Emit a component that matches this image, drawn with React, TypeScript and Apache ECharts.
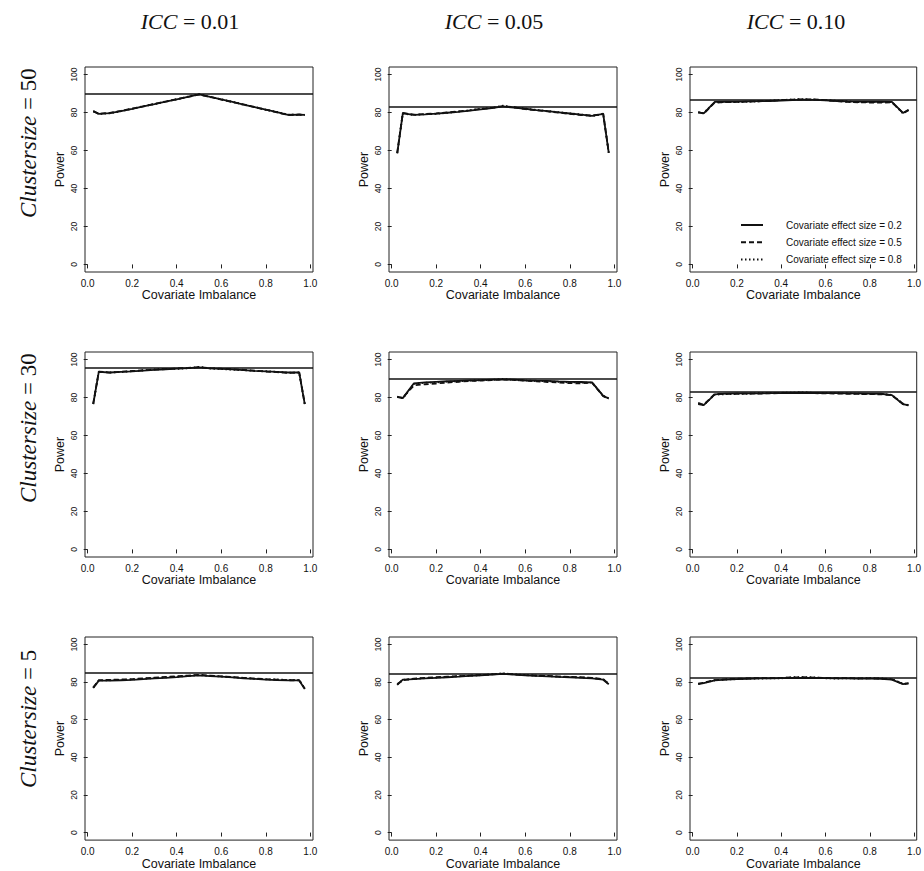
import React, { useEffect, useRef } from "react";
import * as echarts from "echarts";

// ---- data ----
const X = [0.025, 0.05, 0.1, 0.15, 0.2, 0.25, 0.3, 0.35, 0.4, 0.45, 0.5, 0.55, 0.6, 0.65, 0.7, 0.75, 0.8, 0.85, 0.9, 0.95, 0.975];
const X_TICKS = [0, 0.2, 0.4, 0.6, 0.8, 1.0];
const Y_TICKS = [0, 20, 40, 60, 80, 100];
const ICC_LABELS = ["0.01", "0.05", "0.10"];
const CLUSTER_SIZES = ["50", "30", "5"];
const EFFECT_NAMES = ["Covariate effect size = 0.2", "Covariate effect size = 0.5", "Covariate effect size = 0.8"];
// reference (horizontal) power lines, rows = cluster size, cols = ICC
const REF_ROW_50 = [89.8, 83.1, 86.6];
const REF_ROW_30 = [95.7, 89.7, 82.9];
const REF_ROW_5 = [85.1, 84.3, 82.5];

// Cluster size 50
const cs50_icc01_e02 = [80.8, 79.3, 79.7, 80.8, 82.0, 83.3, 84.5, 85.8, 87.0, 88.3, 89.6, 88.2, 86.9, 85.6, 84.2, 82.9, 81.5, 80.2, 78.8, 78.9, 78.8];
const cs50_icc01_e05 = [80.6, 79.4, 79.8, 80.9, 82.1, 83.2, 84.6, 85.7, 87.1, 88.2, 89.5, 88.3, 86.8, 85.5, 84.3, 82.8, 81.6, 80.1, 78.7, 79.0, 78.9];
const cs50_icc01_e08 = [80.7, 79.2, 79.6, 80.7, 82.0, 83.4, 84.4, 85.9, 86.9, 88.4, 89.7, 88.1, 87.0, 85.7, 84.1, 83.0, 81.4, 80.3, 78.9, 78.8, 78.7];
const cs50_icc05_e02 = [58.5, 79.6, 78.8, 79.0, 79.4, 79.9, 80.4, 81.0, 81.7, 82.3, 83.2, 82.6, 82.0, 81.3, 80.7, 80.1, 79.5, 78.9, 78.3, 79.3, 58.8];
const cs50_icc05_e05 = [58.8, 79.8, 78.9, 79.2, 79.5, 80.1, 80.6, 81.2, 81.9, 82.5, 83.4, 82.8, 81.8, 81.2, 80.6, 80.0, 79.3, 78.7, 78.4, 79.4, 59.0];
const cs50_icc05_e08 = [58.6, 79.5, 78.7, 79.1, 79.3, 79.8, 80.5, 81.1, 82.0, 82.4, 83.6, 82.7, 82.1, 81.4, 80.8, 80.2, 79.6, 79.0, 78.2, 79.2, 58.7];
const cs50_icc10_e02 = [80.1, 79.6, 85.6, 85.7, 85.8, 85.9, 86.0, 86.1, 86.3, 86.6, 86.8, 86.7, 86.4, 86.1, 85.9, 85.8, 85.7, 85.7, 85.6, 79.8, 81.4];
const cs50_icc10_e05 = [80.3, 79.4, 85.3, 85.5, 85.6, 85.8, 85.9, 86.2, 86.5, 86.8, 87.0, 86.9, 86.5, 86.0, 85.6, 85.4, 85.3, 85.2, 85.4, 79.7, 81.2];
const cs50_icc10_e08 = [80.0, 79.8, 85.4, 85.5, 85.5, 85.7, 85.9, 86.3, 86.6, 86.9, 87.1, 86.8, 86.6, 86.2, 85.8, 85.5, 85.6, 85.6, 85.5, 79.5, 81.3];

// Cluster size 30
const cs30_icc01_e02 = [76.6, 93.5, 93.2, 93.5, 93.8, 94.2, 94.6, 94.9, 95.2, 95.5, 95.9, 95.4, 95.1, 94.8, 94.5, 94.1, 93.8, 93.5, 93.2, 93.2, 76.5];
const cs30_icc01_e05 = [76.8, 93.7, 93.1, 93.6, 94.0, 94.4, 94.7, 95.0, 95.3, 95.6, 96.0, 95.5, 95.2, 94.9, 94.6, 94.2, 93.7, 93.4, 93.0, 93.3, 76.7];
const cs30_icc01_e08 = [76.5, 93.6, 93.3, 93.4, 93.9, 94.3, 94.8, 95.1, 95.1, 95.4, 96.2, 95.3, 95.0, 94.7, 94.4, 94.0, 93.9, 93.6, 93.1, 93.1, 76.4];
const cs30_icc05_e02 = [80.4, 79.7, 87.5, 88.0, 88.3, 88.6, 88.8, 89.0, 89.2, 89.4, 89.6, 89.4, 89.1, 88.9, 88.8, 88.5, 88.3, 88.2, 88.0, 80.9, 79.5];
const cs30_icc05_e05 = [80.2, 79.9, 86.4, 87.0, 87.4, 87.9, 88.3, 88.7, 88.9, 89.2, 89.5, 89.3, 88.9, 88.6, 88.2, 87.9, 87.6, 87.5, 87.8, 80.7, 79.4];
const cs30_icc05_e08 = [80.5, 79.6, 87.2, 87.8, 88.0, 88.4, 88.6, 88.9, 89.1, 89.3, 89.8, 89.2, 89.0, 88.7, 88.6, 88.3, 88.0, 87.9, 87.9, 81.0, 79.6];
const cs30_icc10_e02 = [76.6, 76.0, 81.7, 82.1, 82.2, 82.2, 82.2, 82.3, 82.3, 82.4, 82.5, 82.4, 82.3, 82.3, 82.2, 82.2, 82.1, 82.0, 81.3, 76.5, 75.9];
const cs30_icc10_e05 = [77.2, 76.2, 81.9, 81.9, 82.0, 82.1, 82.1, 82.2, 82.4, 82.5, 82.6, 82.3, 82.2, 82.1, 82.0, 81.9, 81.8, 81.7, 81.2, 76.8, 76.0];
const cs30_icc10_e08 = [76.8, 76.1, 81.5, 81.8, 81.9, 82.0, 82.3, 82.4, 82.5, 82.6, 82.7, 82.5, 82.4, 82.3, 82.2, 82.0, 81.9, 81.9, 81.4, 76.6, 75.8];

// Cluster size 5
const cs5_icc01_e02 = [76.9, 80.8, 80.8, 81.0, 81.2, 81.6, 82.0, 82.3, 82.7, 83.2, 83.6, 83.2, 82.9, 82.5, 82.0, 81.7, 81.3, 81.1, 80.9, 80.9, 76.4];
const cs5_icc01_e05 = [77.2, 81.0, 81.2, 81.4, 81.6, 82.0, 82.4, 82.8, 83.1, 83.5, 83.9, 83.5, 83.1, 82.7, 82.3, 81.9, 81.6, 81.3, 81.0, 81.0, 76.6];
const cs5_icc01_e08 = [77.0, 80.9, 81.0, 81.2, 81.4, 81.8, 82.2, 82.5, 82.9, 83.3, 83.7, 83.3, 83.0, 82.6, 82.2, 81.8, 81.5, 81.4, 81.2, 81.1, 76.5];
const cs5_icc05_e02 = [78.5, 81.3, 81.6, 82.0, 82.3, 82.6, 82.9, 83.3, 83.6, 84.0, 84.4, 84.0, 83.6, 83.3, 83.1, 82.8, 82.6, 82.3, 82.0, 81.3, 78.9];
const cs5_icc05_e05 = [79.0, 81.0, 81.9, 82.3, 82.6, 82.9, 83.2, 83.5, 83.8, 84.1, 84.5, 84.1, 83.7, 83.5, 83.3, 83.0, 82.8, 82.6, 82.3, 81.6, 79.1];
const cs5_icc05_e08 = [78.7, 81.2, 81.7, 82.1, 82.4, 82.7, 83.1, 83.4, 83.7, 84.2, 84.7, 84.2, 83.8, 83.4, 83.2, 82.9, 82.7, 82.5, 82.2, 81.5, 79.0];
const cs5_icc10_e02 = [79.0, 79.5, 80.9, 81.3, 81.6, 81.8, 82.0, 82.0, 82.1, 82.2, 82.3, 82.2, 82.1, 82.0, 82.0, 81.9, 81.9, 81.8, 81.3, 78.9, 79.3];
const cs5_icc10_e05 = [79.2, 79.7, 81.1, 81.5, 81.8, 82.0, 82.1, 82.1, 82.2, 82.5, 82.6, 82.4, 82.2, 82.1, 82.1, 82.0, 82.0, 81.9, 81.5, 79.0, 79.4];
const cs5_icc10_e08 = [79.1, 79.6, 81.0, 81.4, 81.6, 81.9, 81.9, 82.0, 82.0, 82.6, 82.7, 82.5, 82.0, 81.9, 82.0, 81.9, 82.1, 82.0, 81.6, 79.1, 79.2];

// ---- layout (not data) ----
const COL_LEFT = [85, 389, 690];
const ROW_TOP = [67, 352, 637];
const PANEL_W = 228;
const PANEL_H = 205;
const HEADER_X = [190, 494, 796];
const ROWLABEL_BOTTOM = [218, 503, 788];
const SANS = "Liberation Sans, Arial, sans-serif";
const SERIF = "Liberation Serif, Times New Roman, serif";
const INK = "#111";

function buildOption() {
  const panels = [
    [[cs50_icc01_e02, cs50_icc01_e05, cs50_icc01_e08], [cs50_icc05_e02, cs50_icc05_e05, cs50_icc05_e08], [cs50_icc10_e02, cs50_icc10_e05, cs50_icc10_e08]],
    [[cs30_icc01_e02, cs30_icc01_e05, cs30_icc01_e08], [cs30_icc05_e02, cs30_icc05_e05, cs30_icc05_e08], [cs30_icc10_e02, cs30_icc10_e05, cs30_icc10_e08]],
    [[cs5_icc01_e02, cs5_icc01_e05, cs5_icc01_e08], [cs5_icc05_e02, cs5_icc05_e05, cs5_icc05_e08], [cs5_icc10_e02, cs5_icc10_e05, cs5_icc10_e08]],
  ];
  const refs = [REF_ROW_50, REF_ROW_30, REF_ROW_5];
  const lineTypes: any[] = ["solid", [5, 3], [1.5, 2.5]];

  const grid: any[] = [];
  const xAxis: any[] = [];
  const yAxis: any[] = [];
  const series: any[] = [];

  for (let r = 0; r < 3; r++) {
    for (let c = 0; c < 3; c++) {
      const idx = r * 3 + c;
      grid.push({
        left: COL_LEFT[c],
        top: ROW_TOP[r],
        width: PANEL_W,
        height: PANEL_H,
        show: true,
        borderColor: "#222",
        borderWidth: 1,
        backgroundColor: "transparent",
      });
      xAxis.push({
        type: "value",
        gridIndex: idx,
        min: -0.012,
        max: 1.012,
        axisLine: { show: false },
        splitLine: { show: false },
        axisTick: { show: true, length: 4, inside: false, customValues: X_TICKS, lineStyle: { color: "#222" } },
        axisLabel: {
          customValues: X_TICKS,
          formatter: (v: number) => v.toFixed(1),
          fontSize: 10,
          fontFamily: SANS,
          color: INK,
          margin: 6,
        },
        name: "Covariate Imbalance",
        nameLocation: "middle",
        nameGap: 15,
        nameTextStyle: { fontSize: 12.5, fontFamily: SANS, color: INK },
      });
      yAxis.push({
        type: "value",
        gridIndex: idx,
        min: -4,
        max: 104,
        axisLine: { show: false },
        splitLine: { show: false },
        axisTick: { show: true, length: 4, inside: false, customValues: Y_TICKS, lineStyle: { color: "#222" } },
        axisLabel: {
          customValues: Y_TICKS,
          rotate: 90,
          fontSize: 8.5,
          fontFamily: SANS,
          color: INK,
          margin: 7,
        },
        name: "Power",
        nameLocation: "middle",
        nameGap: 19,
        nameTextStyle: { fontSize: 12.5, fontFamily: SANS, color: INK },
      });
      const vals = panels[r][c];
      for (let e = 0; e < 3; e++) {
        const s: any = {
          type: "line",
          name: EFFECT_NAMES[e],
          xAxisIndex: idx,
          yAxisIndex: idx,
          data: X.map((x, i) => [x, vals[e][i]]),
          symbol: "none",
          silent: true,
          lineStyle: { color: INK, width: 1.8, type: lineTypes[e] },
          itemStyle: { color: INK },
          z: 3 + (2 - e),
        };
        if (e === 0) {
          s.markLine = {
            silent: true,
            symbol: ["none", "none"],
            label: { show: false },
            lineStyle: { color: INK, width: 1.6, type: "solid" },
            data: [{ yAxis: refs[r][c] }],
          };
        }
        series.push(s);
      }
    }
  }

  const graphic: any[] = [];
  for (let c = 0; c < 3; c++) {
    graphic.push({
      type: "text",
      x: HEADER_X[c],
      y: 21,
      style: {
        text: "{i|ICC} = " + ICC_LABELS[c],
        fontSize: 22,
        fontFamily: SERIF,
        fill: INK,
        align: "center",
        verticalAlign: "middle",
        rich: { i: { fontStyle: "italic", fontSize: 22, fontFamily: SERIF, fill: INK } },
      },
    });
  }
  for (let r = 0; r < 3; r++) {
    graphic.push({
      type: "text",
      x: 28,
      y: ROWLABEL_BOTTOM[r],
      rotation: Math.PI / 2,
      style: {
        text: "{i|Clustersize} = " + CLUSTER_SIZES[r],
        fontSize: 23,
        fontFamily: SERIF,
        fill: INK,
        align: "left",
        verticalAlign: "middle",
        rich: { i: { fontStyle: "italic", fontSize: 23, fontFamily: SERIF, fill: INK } },
      },
    });
  }

  return {
    animation: false,
    backgroundColor: "#fff",
    grid,
    xAxis,
    yAxis,
    series,
    graphic,
    legend: {
      data: EFFECT_NAMES,
      orient: "vertical",
      left: 740,
      top: 220,
      padding: 0,
      itemWidth: 22,
      itemHeight: 12,
      itemGap: 7.2,
      selectedMode: false,
      itemStyle: { opacity: 0 },
      textStyle: { fontSize: 10, fontFamily: SANS, color: INK, padding: [0, 0, 0, 18] },
    },
  };
}

export default function App() {
  const ref = useRef<HTMLDivElement>(null);
  useEffect(() => {
    const chart = echarts.init(ref.current!, null, { renderer: "svg" });
    chart.setOption(buildOption());
    return () => chart.dispose();
  }, []);
  return (
    <div
      ref={ref}
      style={{ position: "fixed", left: 0, top: 0, width: 924, height: 871, background: "#fff" }}
    />
  );
}
